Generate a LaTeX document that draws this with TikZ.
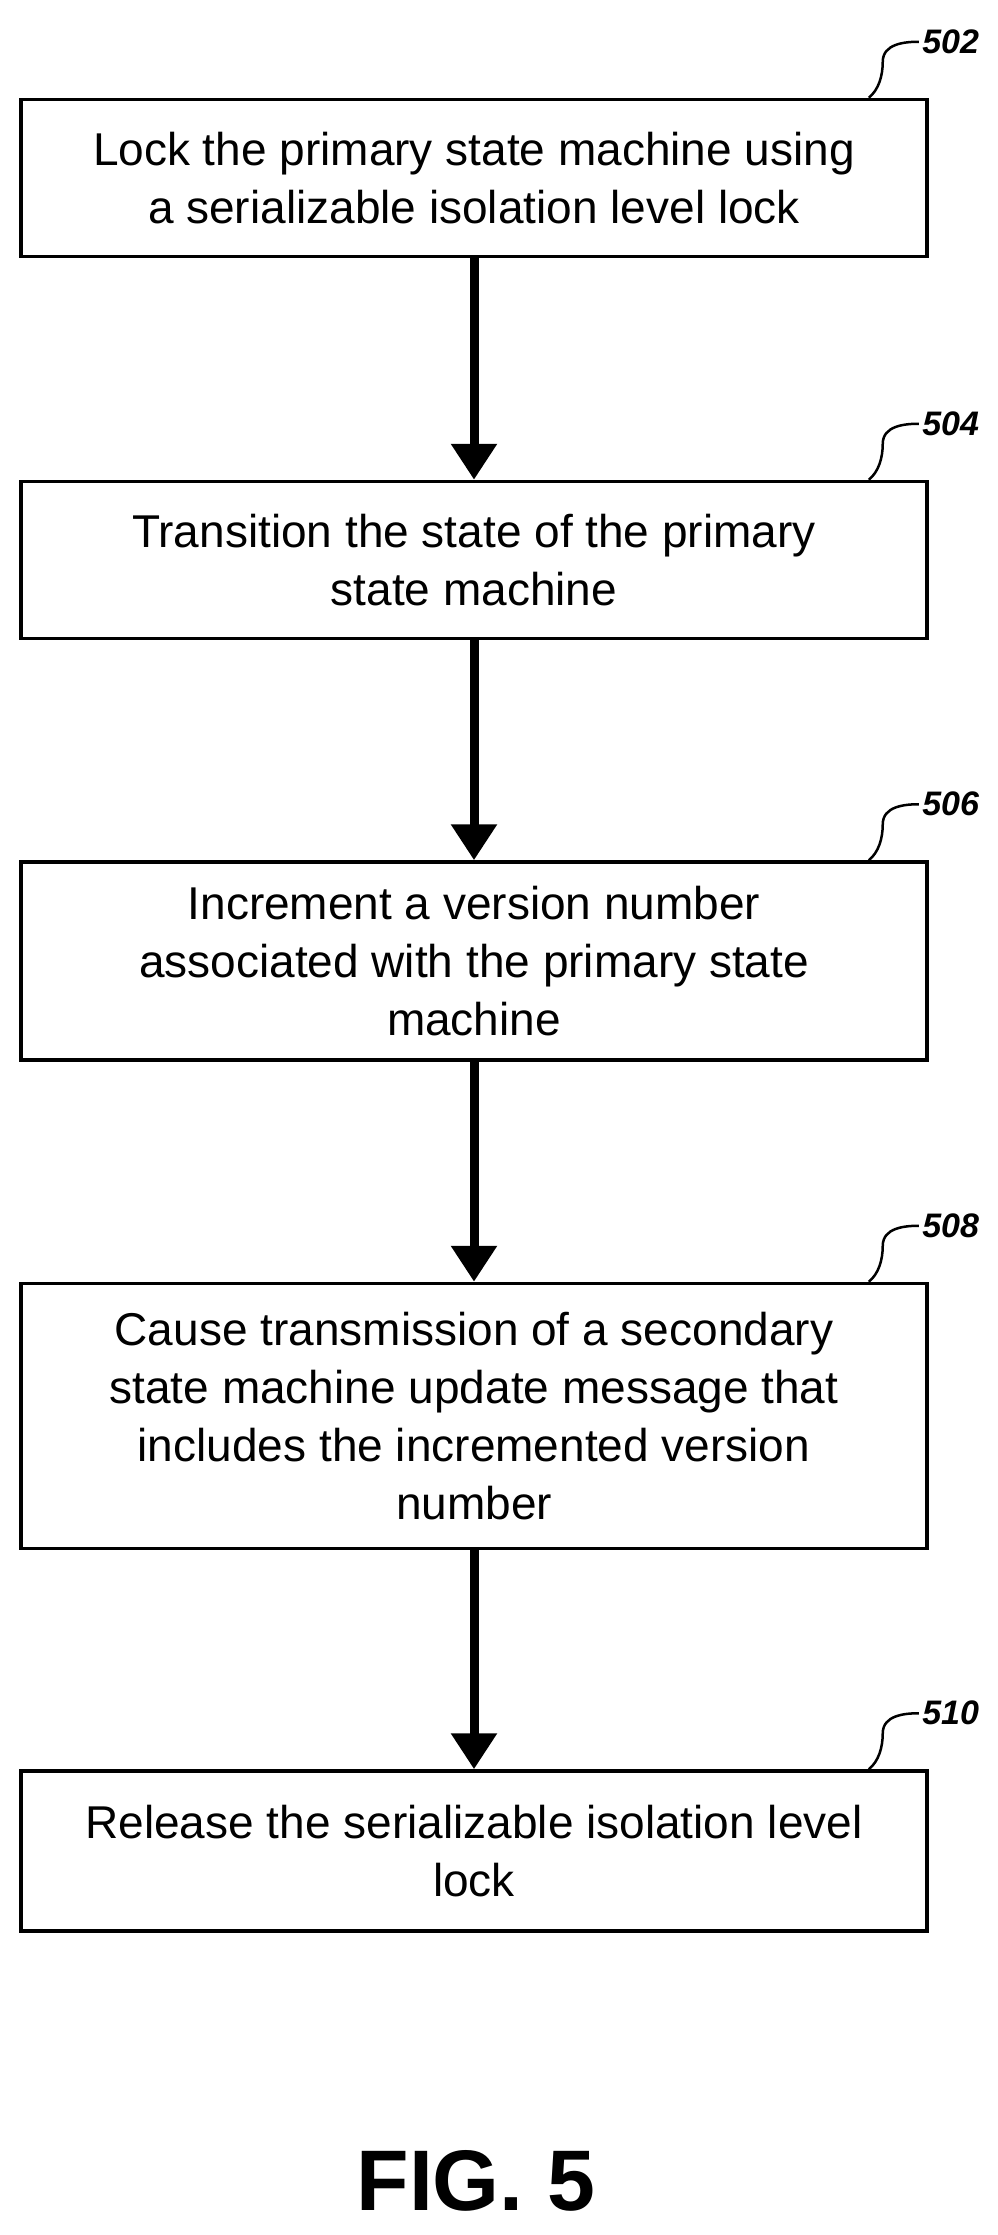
\documentclass[tikz,border=0pt]{standalone}
\usepackage{fontspec}
\setmainfont{Liberation Sans}
\usetikzlibrary{arrows.meta}
\begin{document}
\begin{tikzpicture}[x=1pt,y=-1pt,
 box/.style={draw,line width=3.5pt,minimum width=906pt,align=center,font=\fontsize{46}{58}\selectfont},
 arr/.style={line width=9pt,-{Triangle[length=36pt,width=44pt]}},
 lbl/.style={font=\fontsize{34}{38}\selectfont\bfseries\itshape,anchor=west},
 sq/.style={line width=2.5pt}]
\useasboundingbox (0,0) rectangle (997,2235);
\node[box,minimum height=157pt] (b1) at (474,178) {Lock the primary state machine using\\a serializable isolation level lock};
\node[box,minimum height=157pt] (b2) at (474,560) {Transition the state of the primary\\state machine};
\node[box,minimum height=198pt] (b3) at (474,961) {Increment a version number\\associated with the primary state\\machine};
\node[box,minimum height=265pt] (b4) at (474,1416) {Cause transmission of a secondary\\state machine update message that\\includes the incremented version\\number};
\node[box,minimum height=160pt] (b5) at (474,1851) {Release the serializable isolation level\\lock};
\foreach \a/\b in {b1/b2,b2/b3,b3/b4,b4/b5} \draw[arr] (\a.south) -- (\b.north);
\foreach \b/\t in {b1/502,b2/504,b3/506,b4/508,b5/510}{
 \coordinate (s\t) at ([xshift=-60pt]\b.north east);
 \node[lbl] (l\t) at ([xshift=-10pt,yshift=56pt]\b.north east) {\t};
 \draw[sq] (s\t) .. controls +(10,-8) and +(0,14) .. ([xshift=-46pt,yshift=36pt]\b.north east) .. controls +(0,-18) and +(-14,0) .. (l\t.west);
}
\node[font=\fontsize{86}{90}\selectfont\bfseries] (fig) at (476,2181) {FIG. 5};
\end{tikzpicture}
\end{document}
